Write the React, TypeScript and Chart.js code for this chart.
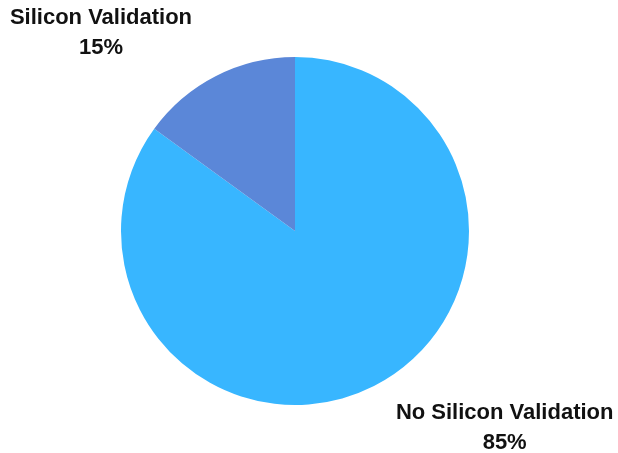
import React, { useEffect, useRef } from "react";
import { Chart, registerables } from "chart.js";

Chart.register(...registerables);

const categories = ["No Silicon Validation", "Silicon Validation"];
const values = [85, 15];
const percentLabels = ["85%", "15%"];
const colors = ["#38B6FF", "#5B87D8"];

const labelPlugin = {
  id: "cornerLabels",
  afterDraw(chart: any) {
    const ctx = chart.ctx;
    const meta = chart.getDatasetMeta(0);
    const arc0 = meta.data[0];
    const cx = arc0.x;
    const cy = arc0.y;
    const r = arc0.outerRadius;
    ctx.save();
    ctx.fillStyle = "#111111";
    ctx.font = "bold 22px 'Liberation Sans', Arial, sans-serif";
    ctx.textAlign = "center";
    ctx.textBaseline = "middle";
    // Silicon Validation (top-left)
    const x1 = cx - r * 1.115;
    const y1 = cy - r * 1.222;
    ctx.fillText(categories[1], x1, y1);
    ctx.fillText(percentLabels[1], x1, y1 + 30);
    // No Silicon Validation (bottom-right)
    const x2 = cx + r * 1.205;
    const y2 = cy + r * 1.046;
    ctx.fillText(categories[0], x2, y2);
    ctx.fillText(percentLabels[0], x2, y2 + 30);
    ctx.restore();
  },
};

export default function App() {
  const ref = useRef<HTMLCanvasElement>(null);
  useEffect(() => {
    document.body.style.margin = "0";
    const chart = new Chart(ref.current!, {
      type: "pie",
      data: {
        labels: categories,
        datasets: [
          {
            data: values,
            backgroundColor: colors,
            borderWidth: 0,
          },
        ],
      },
      options: {
        animation: false,
        responsive: false,
        layout: { padding: { top: 57, bottom: 48, left: 0, right: 28 } },
        plugins: { legend: { display: false }, tooltip: { enabled: false } },
      },
      plugins: [labelPlugin],
    });
    return () => chart.destroy();
  }, []);
  return (
    <div style={{ width: 618, height: 453, background: "#fff" }}>
      <canvas ref={ref} width={618} height={453} style={{ display: "block" }} />
    </div>
  );
}
